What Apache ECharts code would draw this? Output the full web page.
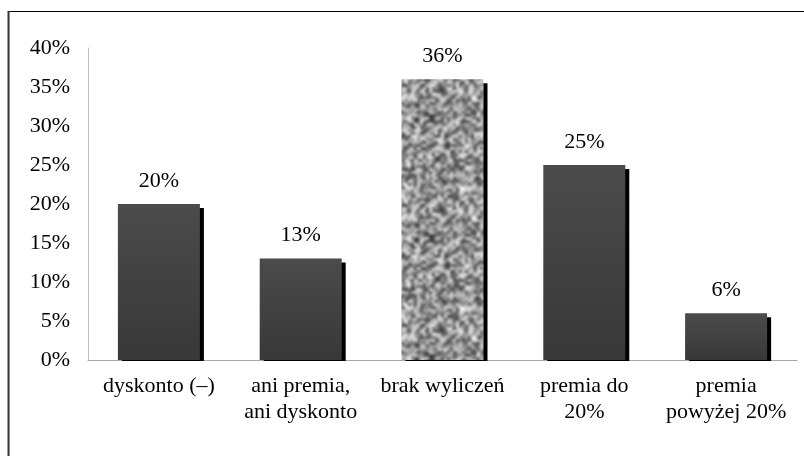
<!DOCTYPE html>
<html>
<head>
<meta charset="utf-8">
<script src="https://cdn.jsdelivr.net/npm/echarts@6/dist/echarts.min.js"></script>
<style>
html,body{margin:0;padding:0;background:#fff;}
#c{width:804px;height:456px;}
</style>
</head>
<body>
<div id="c"></div>
<script>
var categories = ['dyskonto (–)', 'ani premia,\nani dyskonto', 'brak wyliczeń', 'premia do\n20%', 'premia\npowyżej 20%'];
var values = [20, 13, 36, 25, 6];
var yTicks = {min: 0, max: 40, interval: 5};

// granite-like texture for the highlighted bar (deterministic pseudo-noise, seamless tile)
function makeTexture() {
  var W = 120, H = 120, s = 3;
  var sw = W / s, sh = H / s;
  var seed = 98765;
  function rnd() { seed = (seed * 1103515245 + 12345) & 0x7fffffff; return seed / 0x7fffffff; }
  var vals = [];
  for (var i = 0; i < sw * sh; i++) vals.push(Math.floor(55 + rnd() * 190));
  // small canvas tiled 3x3
  var small = document.createElement('canvas');
  small.width = sw * 3; small.height = sh * 3;
  var sc = small.getContext('2d');
  var img = sc.createImageData(sw * 3, sh * 3);
  for (var y = 0; y < sh * 3; y++) for (var x = 0; x < sw * 3; x++) {
    var g = vals[(y % sh) * sw + (x % sw)];
    var k = (y * sw * 3 + x) * 4;
    img.data[k] = g; img.data[k+1] = g; img.data[k+2] = g; img.data[k+3] = 255;
  }
  sc.putImageData(img, 0, 0);
  var mid = document.createElement('canvas');
  mid.width = W * 3; mid.height = H * 3;
  var mc = mid.getContext('2d');
  mc.imageSmoothingEnabled = true;
  mc.imageSmoothingQuality = 'high';
  try { mc.filter = 'blur(0.8px)'; } catch (e) {}
  mc.drawImage(small, 0, 0, W * 3, H * 3);
  var out = document.createElement('canvas');
  out.width = W; out.height = H;
  out.getContext('2d').drawImage(mid, W, H, W, H, 0, 0, W, H);
  return out;
}
var tex = makeTexture();

var barGrad = new echarts.graphic.LinearGradient(0, 0, 0, 1, [
  {offset: 0, color: '#4b4b4b'},
  {offset: 1, color: '#383838'}
]);

var data = values.map(function (v, i) {
  var d = {value: v};
  if (i === 2) d.itemStyle = {color: {image: tex, repeat: 'repeat'}};
  return d;
});

var FONT = 'Liberation Serif';
var FS = 22;

var chart = echarts.init(document.getElementById('c'), null, {renderer: 'canvas'});
chart.setOption({
  animation: false,
  backgroundColor: '#fff',
  grid: {left: 88, right: 7, top: 48, bottom: 96},
  xAxis: {
    type: 'category',
    data: categories,
    axisLine: {show: true, lineStyle: {color: '#a6a6a6', width: 1}},
    axisTick: {show: false},
    axisLabel: {
      color: '#000', fontFamily: FONT, fontSize: FS,
      lineHeight: 26, margin: 13, interval: 0, align: 'center'
    }
  },
  yAxis: {
    type: 'value',
    min: yTicks.min, max: yTicks.max, interval: yTicks.interval,
    axisLine: {show: true, lineStyle: {color: '#bfbfbf', width: 1}},
    axisTick: {show: false},
    splitLine: {show: false},
    axisLabel: {
      color: '#000', fontFamily: FONT, fontSize: FS, margin: 18,
      formatter: '{value}%'
    }
  },
  series: [{
    type: 'bar',
    data: data,
    barWidth: 82,
    itemStyle: {
      color: barGrad,
      shadowColor: '#000',
      shadowBlur: 0,
      shadowOffsetX: 4,
      shadowOffsetY: 4
    },
    label: {
      show: true, position: 'top', distance: 12,
      color: '#000', fontFamily: FONT, fontSize: FS,
      formatter: '{c}%'
    }
  }],
  graphic: [
    {type: 'rect', z: 100, silent: true, shape: {x: 88, y: 361, width: 716, height: 6}, style: {fill: '#fff'}},
    {type: 'line', z: 101, silent: true, shape: {x1: 8, y1: 11.5, x2: 804, y2: 11.5}, style: {stroke: '#000', lineWidth: 1}},
    {type: 'line', z: 101, silent: true, shape: {x1: 8.5, y1: 11, x2: 8.5, y2: 456}, style: {stroke: '#333', lineWidth: 2}}
  ]
});
</script>
</body>
</html>
